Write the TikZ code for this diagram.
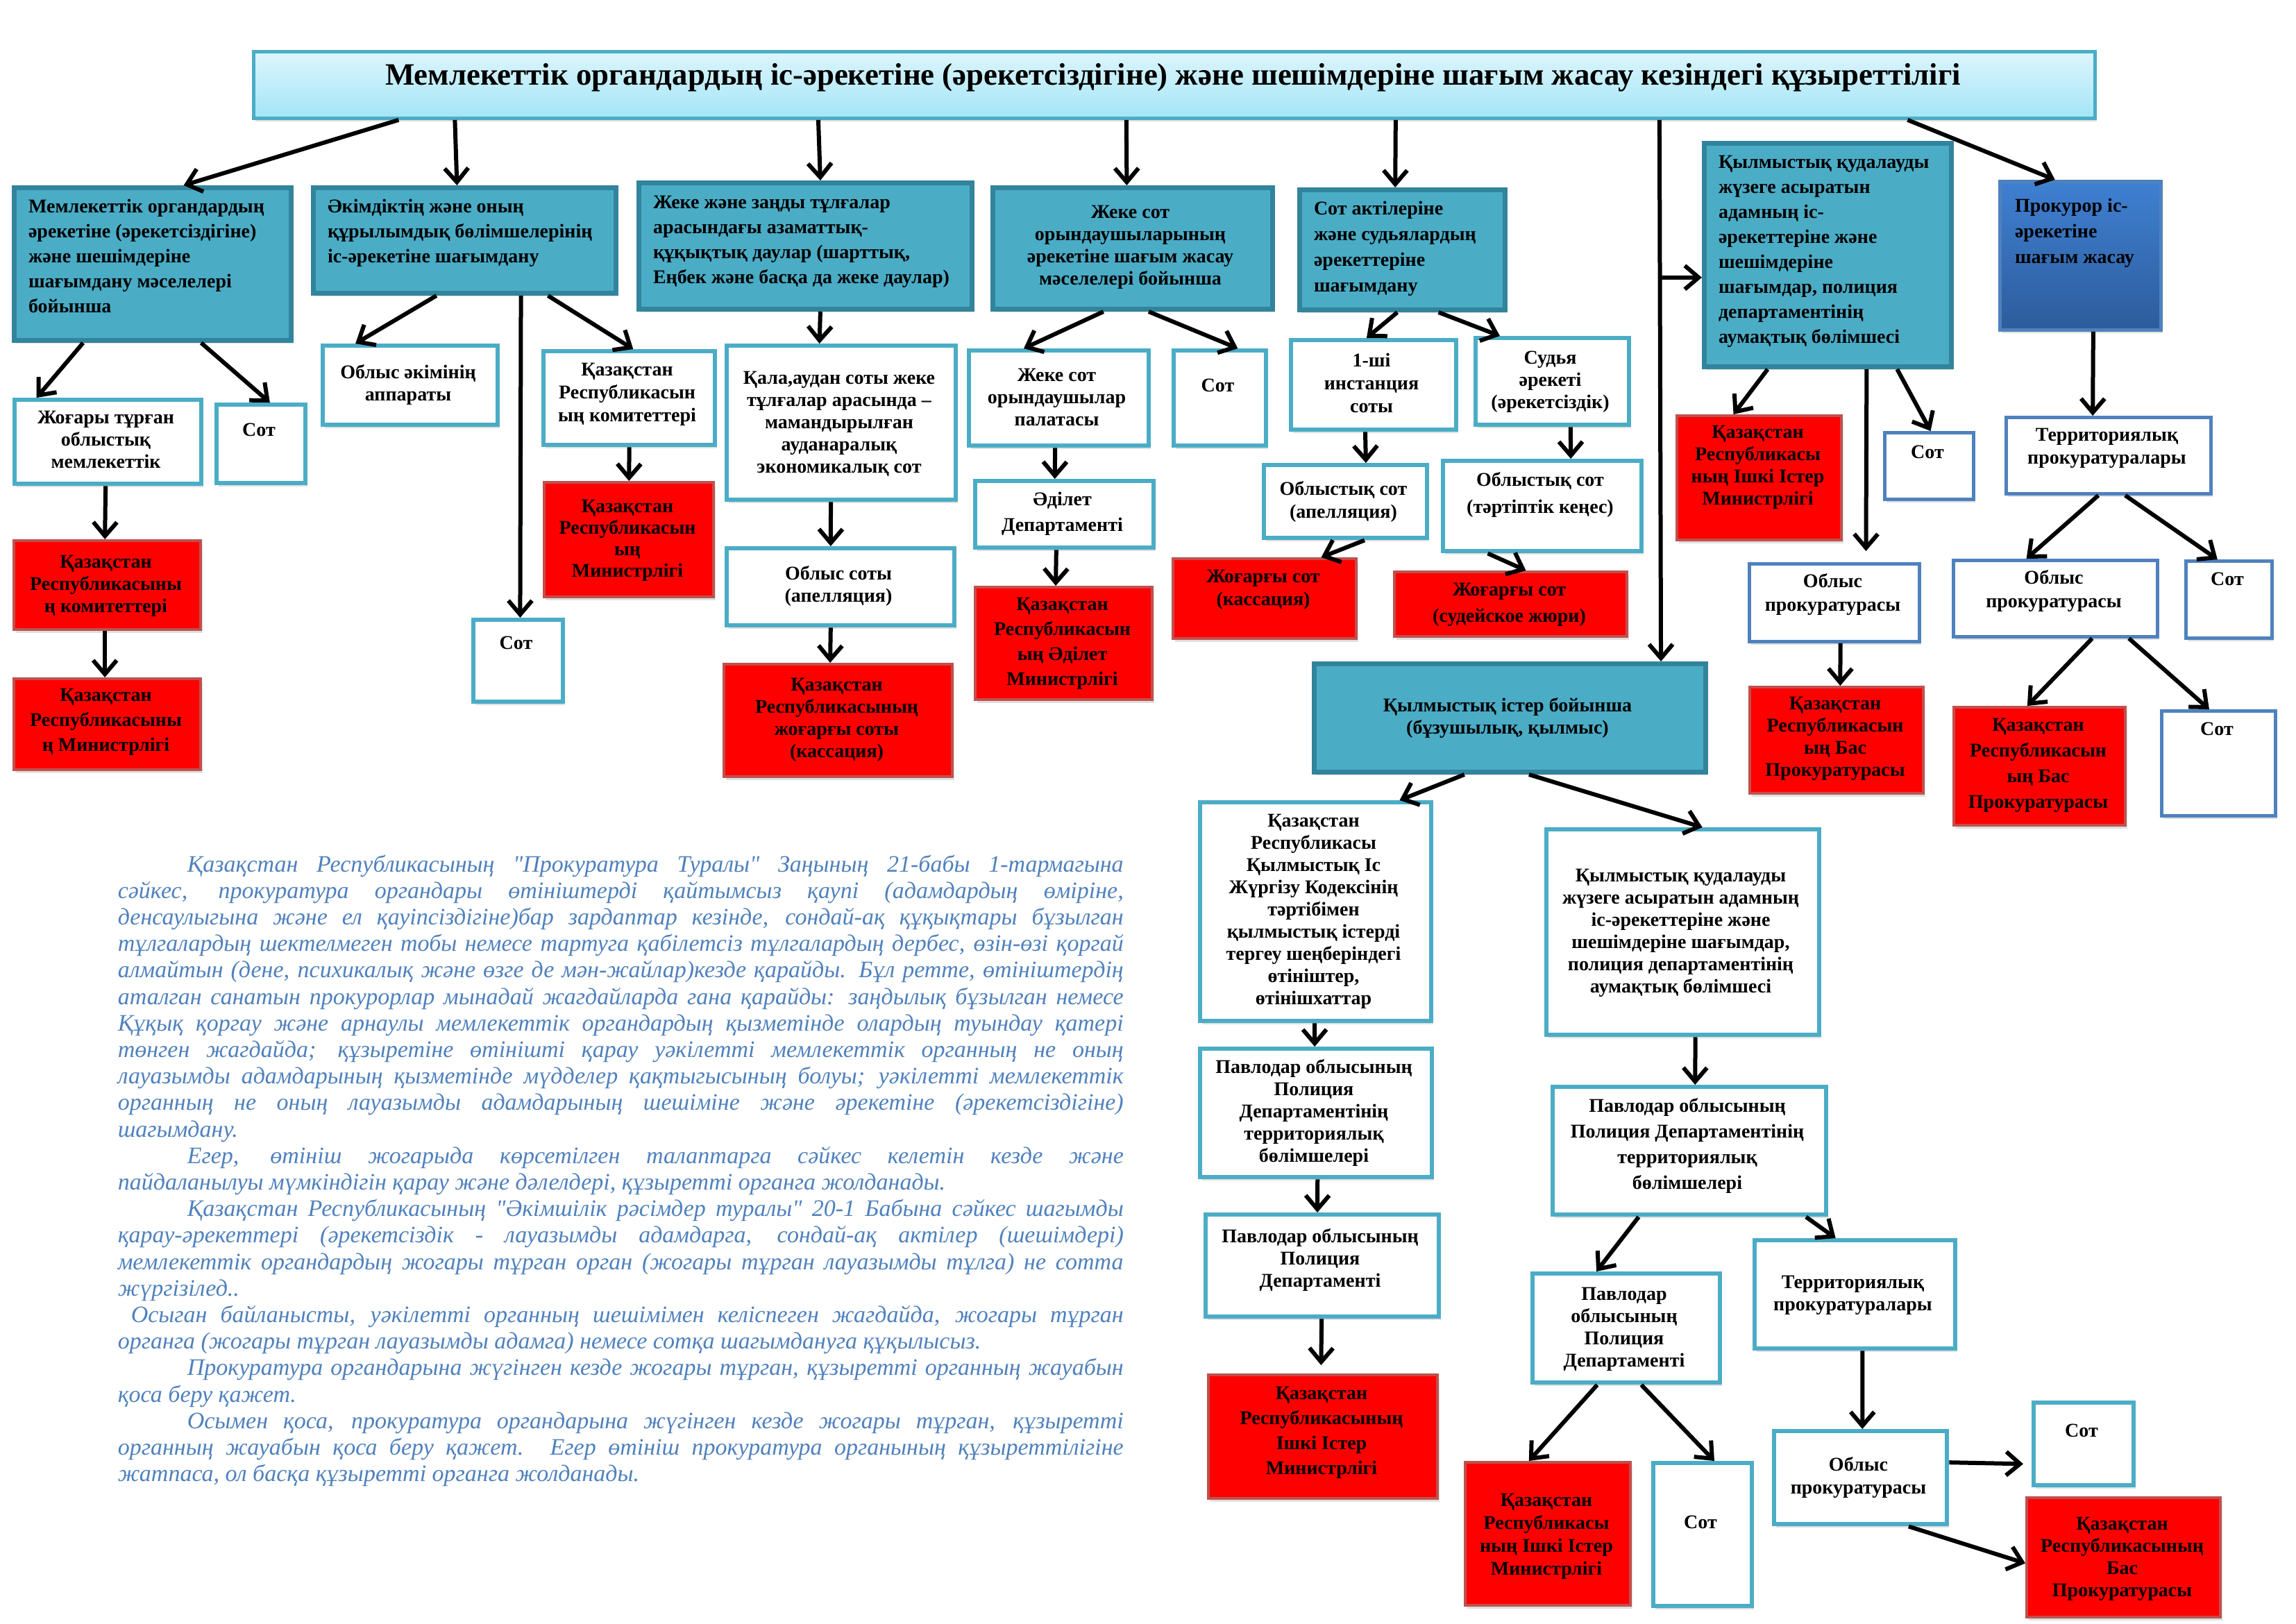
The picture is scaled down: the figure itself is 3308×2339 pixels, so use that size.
\documentclass[tikz,border=0pt]{standalone}
\usepackage{fontspec}
\setmainfont{Liberation Serif}[Ligatures=TeXOff]
\usetikzlibrary{arrows.meta,calc,shadows}
\definecolor{teal1}{HTML}{4BACC6}
\definecolor{teal2}{HTML}{31849B}
\definecolor{blu}{HTML}{4F81BD}
\definecolor{redb}{HTML}{C0504D}
\definecolor{ttop}{HTML}{DDF5FC}
\definecolor{tbot}{HTML}{A3E5F7}
\definecolor{ptop}{HTML}{3F80D2}
\definecolor{pbot}{HTML}{2D5C9C}
\newdimen\pxu \pxu=0.25pt
\tikzset{
 shd/.style={drop shadow={shadow xshift=0.6pt,shadow yshift=-1.2pt,opacity=0.25}},
 tealbox/.style={fill=teal1,draw=teal2,line width=1.75pt,shd},
 wbox/.style={fill=white,draw=teal1,line width=1.6pt,shd},
 bbox/.style={fill=white,draw=blu,line width=1.2pt,shd},
 rbox/.style={fill=red,draw=redb,line width=1.1pt,shd},
 pbox/.style={top color=ptop,bottom color=pbot,draw=blu,line width=1.2pt,shd},
 arw/.style={draw=black,line width=1.5pt,-{Straight Barb[length=5pt,width=8.5pt]}},
 btext/.style={inner sep=0pt,outer sep=0pt,text=black},
}
% style, name, x1, y1, x2, y2, first baseline y, leading px, text
\newcommand\mybox[9]{%
 \node[#1,anchor=north west,inner sep=0pt,minimum width={(#5-#3)*0.25pt},minimum height={(#6-#4)*0.25pt}] (#2) at (#3,#4) {};
 \node[btext,anchor=base] (#2t) at ({(#3+#5)/2},#7) {\fontsize{7}{\the\dimexpr\pxu*#8\relax}\selectfont\bfseries\begin{tabular}[t]{@{}c@{}}#9\end{tabular}};}
\newcommand\myboxl[9]{%
 \node[#1,anchor=north west,inner sep=0pt,minimum width={(#5-#3)*0.25pt},minimum height={(#6-#4)*0.25pt}] (#2) at (#3,#4) {};
 \node[btext,anchor=base west] (#2t) at (#3+24,#7) {\fontsize{7}{\the\dimexpr\pxu*#8\relax}\selectfont\bfseries\begin{tabular}[t]{@{}l@{}}#9\end{tabular}};}
\newcommand\conn[5][]{\draw[arw,#1] ($(#2.south west)!#3!(#2.south east)$) -- ($(#4.north west)!#5!(#4.north east)$);}
\newcommand\jline[2]{\noindent\hspace*{#1}\makebox[\dimexpr\linewidth-#1\relax][s]{#2}\par}
\newcommand\lline[2]{\noindent\hspace*{#1}#2\par}
\begin{document}
\begin{tikzpicture}[x=0.25pt,y=-0.25pt]
\useasboundingbox (0,0) rectangle (3308,2339);
\fill[white] (0,0) rectangle (3308,2339);
% title
\node[anchor=north west,inner sep=0pt,minimum width={(3016-363)*0.25pt},minimum height={(168-72)*0.25pt},top color=ttop,bottom color=tbot,draw=teal1,line width=1.2pt,shd] (tt) at (363,72) {};
\node[btext,anchor=base] (ttt) at (1690,122) {\fontsize{11.2}{13}\selectfont\bfseries Мемлекеттік органдардың іс-әрекетіне (әрекетсіздігіне) және шешімдеріне шағым жасау кезіндегі құзыреттілігі};
% teal boxes
\myboxl{tealbox}{a1}{17}{267}{416}{487}{306}{36}{Мемлекеттік органдардың\\әрекетіне (әрекетсіздігіне)\\және шешімдеріне\\шағымдану мәселелері\\бойынша}
\myboxl{tealbox}{a2}{448}{267}{884}{419}{306}{36}{Әкімдіктің және оның\\құрылымдық бөлімшелерінің\\іс-әрекетіне шағымдану}
\myboxl{tealbox}{b}{917}{260}{1397}{442}{300}{36}{Жеке және заңды тұлғалар\\арасындағы азаматтық-\\құқықтық даулар (шарттық,\\Еңбек және басқа да жеке даулар)}
\mybox{tealbox}{c}{1427}{267}{1830}{442}{314}{32}{Жеке сот\\орындаушыларының\\әрекетіне шағым жасау\\мәселелері бойынша}
\myboxl{tealbox}{d}{1869}{270}{2165}{443}{309}{37}{Сот актілеріне\\және судьялардың\\әрекеттеріне\\шағымдану}
\myboxl{tealbox}{e}{2452}{203}{2808}{525}{242}{36}{Қылмыстық қудалауды\\жүзеге асыратын\\адамның іс-\\әрекеттеріне және\\шешімдеріне\\шағымдар, полиция\\департаментінің\\аумақтық бөлімшесі}
\myboxl{pbox}{g}{2879}{259}{3111}{473}{305}{37}{Прокурор іс-\\әрекетіне\\шағым жасау}
\mybox{tealbox}{f}{1890}{953}{2454}{1109}{1025}{32}{Қылмыстық істер бойынша\\(бұзушылық, қылмыс)}
% white boxes
\mybox{wbox}{a1a}{18}{573}{287}{694}{610}{32}{Жоғары тұрған\\облыстық\\мемлекеттік}
\mybox{wbox}{a1b}{309}{580}{437}{693}{628}{32}{Сот}
\mybox{wbox}{a2a}{462}{495}{714}{609}{545}{32}{Облыс әкімінің\\аппараты}
\mybox{wbox}{a2c}{780}{503}{1027}{638}{541}{33}{Қазақстан\\Республикасын\\ың комитеттері}
\mybox{wbox}{a2b}{679}{890}{808}{1008}{935}{32}{Сот}
\mybox{wbox}{b1}{1044}{495}{1374}{717}{553}{32}{Қала,аудан соты жеке\\тұлғалар арасында –\\мамандырылған\\ауданаралық\\экономикалық сот}
\mybox{wbox}{b2}{1044}{787}{1372}{898}{835}{32}{Облыс соты\\(апелляция)}
\mybox{wbox}{c1}{1393}{502}{1652}{639}{549}{32}{Жеке сот\\орындаушылар\\палатасы}
\mybox{wbox}{c2}{1688}{502}{1821}{639}{564}{32}{Сот}
\mybox{wbox}{c3}{1402}{690}{1659}{786}{728}{37}{Әділет\\Департаменті}
\mybox{wbox}{d1}{1857}{487}{2095}{616}{528}{33}{1-ші\\инстанция\\соты}
\mybox{wbox}{d2}{2123}{484}{2344}{609}{524}{32}{Судья\\әрекеті\\(әрекетсіздік)}
\mybox{wbox}{d3}{1818}{667}{2053}{772}{713}{33}{Облыстық сот\\(апелляция)}
\mybox{wbox}{d4}{2076}{661}{2362}{791}{700}{39}{Облыстық сот\\(тәртіптік кеңес)}
\mybox{wbox}{f1}{1726}{1153}{2059}{1468}{1191}{32}{Қазақстан\\Республикасы\\Қылмыстық Іс\\Жүргізу Кодексінің\\тәртібімен\\қылмыстық істерді\\тергеу шеңберіндегі\\өтініштер,\\өтінішхаттар}
\mybox{wbox}{f2}{2225}{1192}{2618}{1488}{1270}{32}{Қылмыстық қудалауды\\жүзеге асыратын адамның\\іс-әрекеттеріне және\\шешімдеріне шағымдар,\\полиция департаментінің\\аумақтық бөлімшесі}
\mybox{wbox}{f3}{1726}{1508}{2060}{1693}{1546}{32}{Павлодар облысының\\Полиция\\Департаментінің\\территориялық\\бөлімшелері}
\mybox{wbox}{f4}{1734}{1747}{2070}{1894}{1790}{32}{Павлодар облысының\\Полиция\\Департаменті}
\mybox{wbox}{f6}{2234}{1563}{2628}{1747}{1602}{37}{Павлодар облысының\\Полиция Департаментінің\\территориялық\\бөлімшелері}
\mybox{wbox}{f7}{2205}{1832}{2475}{1989}{1873}{32}{Павлодар\\облысының\\Полиция\\Департаменті}
\mybox{wbox}{f10}{2379}{2105}{2521}{2311}{2202}{32}{Сот}
\mybox{wbox}{f8}{2525}{1784}{2814}{1940}{1856}{32}{Территориялық\\прокуратуралары}
\mybox{wbox}{f11}{2553}{2059}{2802}{2193}{2119}{33}{Облыс\\прокуратурасы}
\mybox{wbox}{f12}{2927}{2018}{3071}{2137}{2070}{32}{Сот}
% blue-bordered boxes
\mybox{bbox}{e2}{2713}{621}{2841}{717}{660}{32}{Сот}
\mybox{bbox}{e3}{2518}{810}{2763}{922}{846}{34}{Облыс\\прокуратурасы}
\mybox{bbox}{g1}{2888}{599}{3183}{709}{635}{33}{Территориялық\\прокуратуралары}
\mybox{bbox}{g2}{2812}{805}{3106}{915}{841}{34}{Облыс\\прокуратурасы}
\mybox{bbox}{g3}{3147}{806}{3271}{917}{843}{32}{Сот}
\mybox{bbox}{g5}{3112}{1022}{3276}{1173}{1059}{32}{Сот}
% red boxes
\mybox{rbox}{a1c}{18}{777}{287}{905}{818}{32}{Қазақстан\\Республикасыны\\ң комитеттері}
\mybox{rbox}{a1d}{18}{976}{287}{1107}{1010}{36}{Қазақстан\\Республикасыны\\ң Министрлігі}
\mybox{rbox}{a2d}{782}{693}{1026}{858}{738}{31}{Қазақстан\\Республикасын\\ың\\Министрлігі}
\mybox{rbox}{b3}{1041}{955}{1370}{1117}{995}{32}{Қазақстан\\Республикасының\\жоғарғы соты\\(кассация)}
\mybox{rbox}{c4}{1403}{844}{1658}{1006}{879}{36}{Қазақстан\\Республикасын\\ың Әділет\\Министрлігі}
\mybox{rbox}{d5}{1688}{803}{1952}{918}{839}{33}{Жоғарғы сот\\(кассация)}
\mybox{rbox}{d6}{2007}{822}{2342}{915}{858}{38}{Жоғарғы сот\\(судейское жюри)}
\mybox{rbox}{e1}{2414}{597}{2651}{776}{631}{32}{Қазақстан\\Республикасы\\ның Ішкі Істер\\Министрлігі}
\mybox{rbox}{e4}{2519}{988}{2769}{1141}{1022}{32}{Қазақстан\\Республикасын\\ың Бас\\Прокуратурасы}
\mybox{rbox}{g4}{2813}{1017}{3060}{1187}{1053}{37}{Қазақстан\\Республикасын\\ың Бас\\Прокуратурасы}
\mybox{rbox}{f5}{1739}{1979}{2069}{2157}{2016}{36}{Қазақстан\\Республикасының\\Ішкі Істер\\Министрлігі}
\mybox{rbox}{f9}{2109}{2105}{2347}{2311}{2170}{33}{Қазақстан\\Республикасы\\ның Ішкі Істер\\Министрлігі}
\mybox{rbox}{f13}{2918}{2156}{3197}{2328}{2204}{32}{Қазақстан\\Республикасының\\Бас\\Прокуратурасы}
% connectors
\conn{tt}{.0795}{a1}{.61}
\conn{tt}{.110}{a2}{.475}
\conn{tt}{.307}{b}{.544}
\conn{tt}{.474}{c}{.479}
\conn{tt}{.620}{d}{.466}
\conn{tt}{.763}{f}{.881}
\conn{tt}{.8975}{g}{.345}
\coordinate (br) at ($(tt.south west)!.763!(tt.south east)+(0,227)$);
\draw[arw] (br) -- (br -| e.west);
\conn{a1}{.253}{a1a}{.126}
\conn{a1}{.672}{a1b}{.594}
\conn{a1a}{.487}{a1c}{.487}
\conn{a1c}{.487}{a1d}{.487}
\conn{a2}{.408}{a2a}{.194}
\conn{a2}{.683}{a2b}{.52}
\conn{a2}{.771}{a2c}{.522}
\conn{a2c}{.5}{a2d}{.5}
\conn{b}{.544}{b1}{.406}
\conn{b1}{.455}{b2}{.457}
\conn{b2}{.457}{b3}{.465}
\conn{c}{.397}{c1}{.309}
\conn{c}{.556}{c2}{.684}
\conn{c1}{.479}{c3}{.447}
\conn{c3}{.455}{c4}{.455}
\conn{d}{.476}{d1}{.458}
\conn{d}{.672}{d2}{.167}
\conn{d1}{.45}{d3}{.621}
\conn{d2}{.615}{d4}{.64}
\conn{d3}{.613}{d5}{.803}
\conn{d4}{.231}{d6}{.564}
\conn{e}{.261}{e1}{.346}
\conn{e}{.775}{e2}{.516}
\conn[shorten >=4pt]{e}{.654}{e3}{.682}
\conn{e3}{.535}{e4}{.52}
\conn{g}{.578}{g1}{.424}
\conn{g1}{.451}{g2}{.36}
\conn{g1}{.58}{g3}{.371}
\conn{g2}{.677}{g4}{.429}
\conn{g2}{.854}{g5}{.42}
\conn{f}{.385}{f1}{.856}
\conn{f}{.548}{f2}{.57}
\conn{f1}{.495}{f3}{.494}
\conn{f3}{.506}{f4}{.479}
\conn[shorten >=3pt]{f4}{.497}{f5}{.491}
\conn{f2}{.545}{f6}{.52}
\conn{f6}{.317}{f7}{.344}
\conn{f6}{.919}{f8}{.405}
\conn{f7}{.348}{f9}{.387}
\conn{f7}{.578}{f10}{.613}
\conn{f8}{.536}{f11}{.51}
\draw[arw,shorten >=3pt] ($(f11.north east)!.343!(f11.south east)$) -- ($(f12.north west)!.73!(f12.south west)$);
\draw[arw] ($(f11.south west)!.771!(f11.south east)$) -- ($(f13.north west)!.547!(f13.south west)$);
% paragraph
\node[anchor=base west,inner sep=0pt,text=blu] (para) at (169,1256) {\parbox[t]{1449\pxu}{\fontsize{8.5}{9.55}\selectfont\itshape\parskip=0pt\lineskiplimit=-\maxdimen
\jline{25pt}{Қазақстан Республикасының "Прокуратура Туралы" Заңының 21-бабы 1-тармагына}
\jline{0pt}{сәйкес, прокуратура органдары өтініштерді қайтымсыз қаупі (адамдардың өміріне,}
\jline{0pt}{денсаулыгына және ел қауіпсіздігіне)бар зардаптар кезінде, сондай-ақ құқықтары бұзылган}
\jline{0pt}{тұлгалардың шектелмеген тобы немесе тартуга қабілетсіз тұлгалардың дербес, өзін-өзі қоргай}
\jline{0pt}{алмайтын (дене, психикалық және өзге де мән-жайлар)кезде қарайды. Бұл ретте, өтініштердің}
\jline{0pt}{аталган санатын прокурорлар мынадай жагдайларда гана қарайды: заңдылық бұзылган немесе}
\jline{0pt}{Құқық қоргау және арнаулы мемлекеттік органдардың қызметінде олардың туындау қатері}
\jline{0pt}{төнген жагдайда; құзыретіне өтінішті қарау уәкілетті мемлекеттік органның не оның}
\jline{0pt}{лауазымды адамдарының қызметінде мүдделер қақтыгысының болуы; уәкілетті мемлекеттік}
\jline{0pt}{органның не оның лауазымды адамдарының шешіміне және әрекетіне (әрекетсіздігіне)}
\lline{0pt}{шагымдану.}
\jline{25pt}{Егер, өтініш жогарыда көрсетілген талаптарга сәйкес келетін кезде және}
\lline{0pt}{пайдаланылуы мүмкіндігін қарау және дәлелдері, құзыретті органга жолданады.}
\jline{25pt}{Қазақстан Республикасының "Әкімшілік рәсімдер туралы" 20-1 Бабына сәйкес шагымды}
\jline{0pt}{қарау-әрекеттері (әрекетсіздік - лауазымды адамдарга, сондай-ақ актілер (шешімдері)}
\jline{0pt}{мемлекеттік органдардың жогары тұрган орган (жогары тұрган лауазымды тұлга) не сотта}
\lline{0pt}{жүргізілед..}
\jline{4.75pt}{Осыган байланысты, уәкілетті органның шешімімен келіспеген жагдайда, жогары тұрган}
\lline{0pt}{органга (жогары тұрган лауазымды адамга) немесе сотқа шагымдануга құқылысыз.}
\jline{25pt}{Прокуратура органдарына жүгінген кезде жогары тұрган, құзыретті органның жауабын}
\lline{0pt}{қоса беру қажет.}
\jline{25pt}{Осымен қоса, прокуратура органдарына жүгінген кезде жогары тұрган, құзыретті}
\jline{0pt}{органның жауабын қоса беру қажет. Егер өтініш прокуратура органының құзыреттілігіне}
\lline{0pt}{жатпаса, ол басқа құзыретті органга жолданады.}
}};
\end{tikzpicture}
\end{document}
